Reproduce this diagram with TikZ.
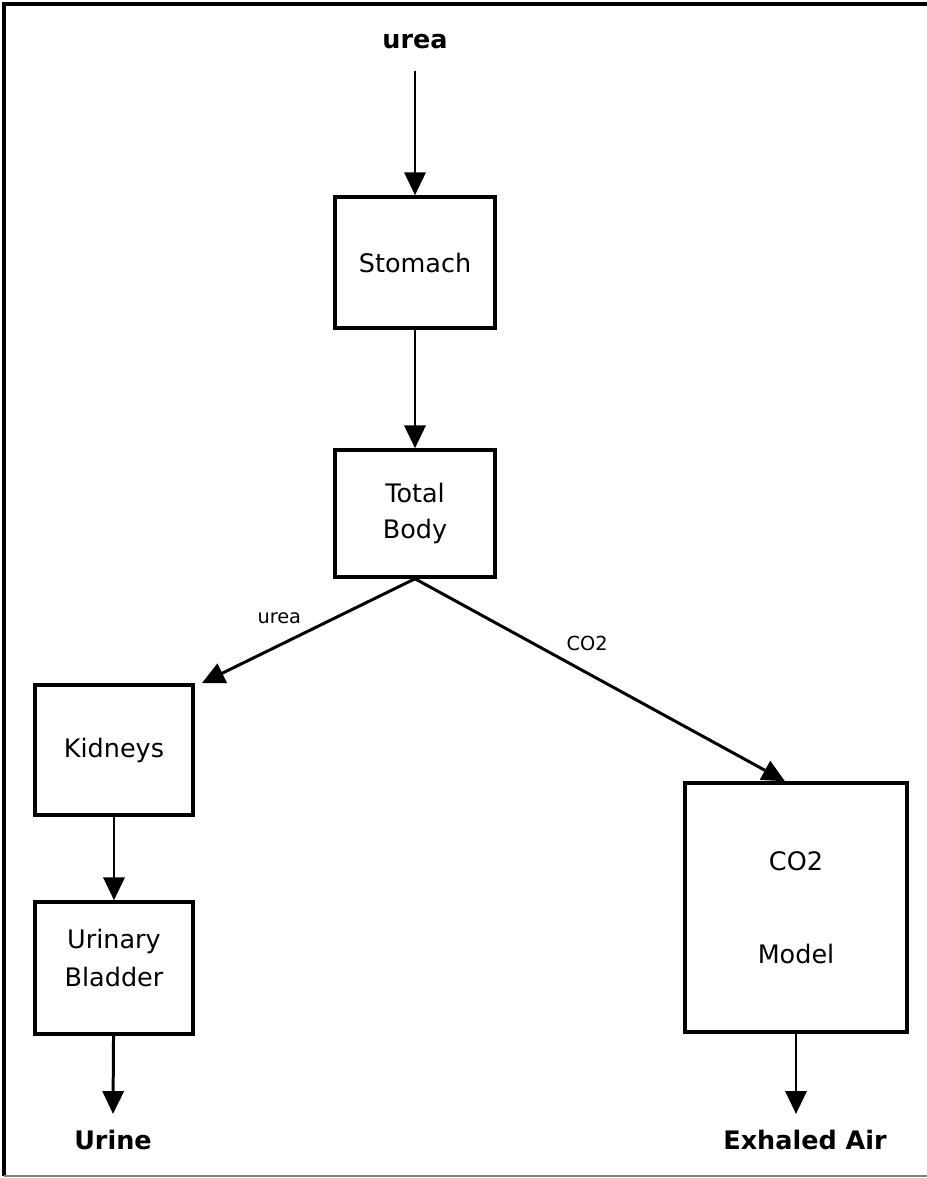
\documentclass[tikz,border=0pt]{standalone}
\usepackage{fontspec}
\setmainfont{DejaVu Sans}
\usetikzlibrary{arrows.meta}
\tikzset{
organ/.style={draw, line width=2pt, minimum width=3.2cm, minimum height=2.6cm, align=center, font=\fontsize{14.5}{20}\selectfont},
flow/.style={line width=1.7pt, -{Triangle[width=12pt,length=13pt]}},
endlabel/.style={font=\fontsize{14.5}{18}\selectfont\bfseries},
flowlabel/.style={font=\fontsize{11}{13}\selectfont}
}

\begin{document}
\begin{tikzpicture}[x=0.02cm,y=-0.02cm]
\useasboundingbox (0,0) rectangle (927,1178);
\draw[line width=2pt] (4,1176) -- (4,4) -- (927,4);
\draw[gray, line width=1.5pt] (4,1176) -- (927,1176);

\node[endlabel] (urea) at (415,42) {urea};
\node[organ, minimum height=2.62cm] (stomach) at (415,262.5) {Stomach};
\node[organ, minimum height=2.54cm] (body) at (415,513.5) {Total\\Body};
\node[organ, minimum width=3.16cm] (kidneys) at (114,750) {Kidneys};
\node[organ, minimum width=3.16cm, minimum height=2.64cm, font=\fontsize{14.5}{21.5}\selectfont] (bladder) at (114,968) {Urinary\\Bladder\\[-0.35cm]};
\node[organ, minimum width=4.44cm, minimum height=4.98cm] (co2) at (796,907.5) {CO2\\[1.15cm]Model};
\node[endlabel] (urine) at (113,1140) {Urine};
\node[endlabel] (air) at (805,1140) {Exhaled Air};

\draw[flow] ([yshift=-0.3cm]urea.south) -- (stomach);
\draw[flow] (stomach) -- (body);
\draw[flow] (body.south) -- node[flowlabel, above left, pos=0.5] {urea} ([xshift=0.14cm]kidneys.north east);
\draw[flow] (body.south) -- node[flowlabel, above right, pos=0.39] {CO2} ([xshift=-0.22cm]co2.north);
\draw[flow] (kidneys) -- (bladder);
\draw[flow] (bladder) -- ([yshift=0.2cm]urine.north);
\draw[flow] (co2) -- ([yshift=0.2cm]co2.south |- air.north);
\end{tikzpicture}
\end{document}
